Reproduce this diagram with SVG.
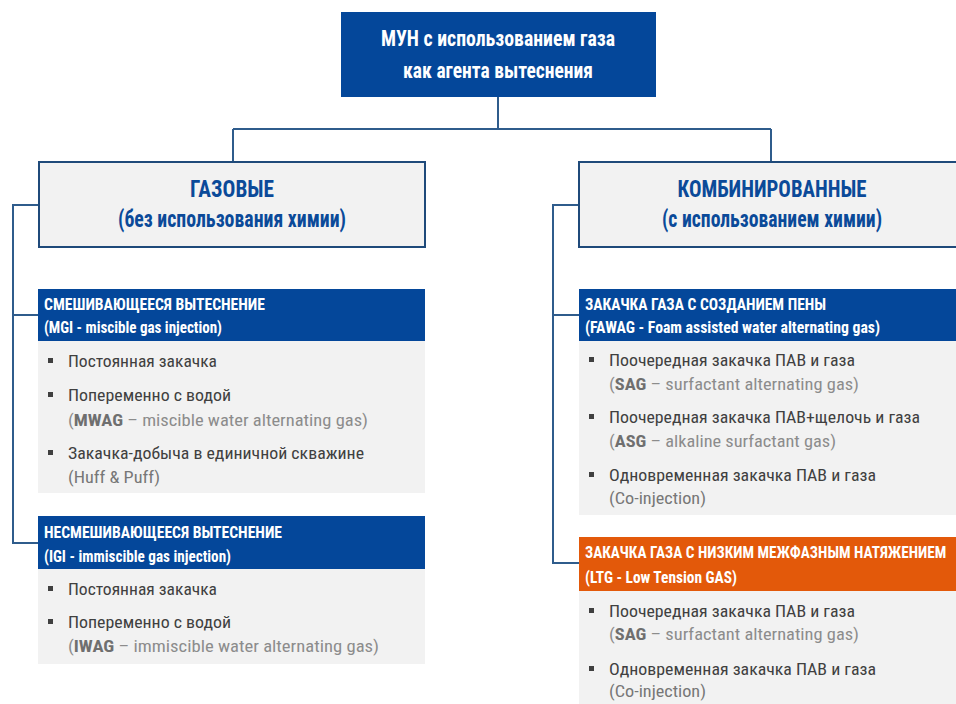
<svg xmlns="http://www.w3.org/2000/svg" width="956" height="704" viewBox="0 0 956 704">
<style>
text{font-family:"Roboto Condensed","Liberation Sans Narrow",Roboto,"Liberation Sans",sans-serif}
.top{fill:#ffffff;font-size:22px;font-weight:bold}
.cat{fill:#0b4a99;font-size:23px;font-weight:bold}
.hdr{fill:#ffffff;font-size:16px;font-weight:bold}
.txt{fill:#404040;font-size:17px}
.par{fill:#8c8c8c;font-size:17px}
.ab{fill:#6f6f6f;font-weight:bold}
.blue{fill:#04479a}
.orange{fill:#e3590a}
.body{fill:#f2f2f2}
.catbox{fill:#f2f2f2;stroke:#1f4a7a;stroke-width:2}
.conn{fill:none;stroke:#2f5c8c;stroke-width:2}
.bul{fill:#404040}
</style>
<g id="connectors">
<path class="conn" d="M498 97V129M233 129H771M233 129V162M771 129V162"/>
<path class="conn" d="M39 205H13V543H39M13 315H38"/>
<path class="conn" d="M579 205H553V563H579M553 315H579"/>
</g>
<g id="root">
<rect class="blue" x="341" y="12" width="315" height="85"/>
<text class="top" x="498" y="46" text-anchor="middle" textLength="234" lengthAdjust="spacingAndGlyphs">МУН с использованием газа</text>
<text class="top" x="498" y="78" text-anchor="middle" textLength="190" lengthAdjust="spacingAndGlyphs">как агента вытеснения</text>
</g>
<g id="gas">
<rect class="catbox" x="39" y="162" width="386" height="85"/>
<text class="cat" x="232" y="197" text-anchor="middle" textLength="84" lengthAdjust="spacingAndGlyphs">ГАЗОВЫЕ</text>
<text class="cat" x="232" y="227" text-anchor="middle" textLength="228" lengthAdjust="spacingAndGlyphs">(без использования химии)</text>
</g>
<g id="combined">
<rect class="catbox" x="579" y="162" width="380" height="85"/>
<text class="cat" x="772" y="197" text-anchor="middle" textLength="189" lengthAdjust="spacingAndGlyphs">КОМБИНИРОВАННЫЕ</text>
<text class="cat" x="772" y="227" text-anchor="middle" textLength="220" lengthAdjust="spacingAndGlyphs">(с использованием химии)</text>
</g>
<g id="mgi">
<rect class="blue" x="38" y="289" width="387" height="52"/>
<rect class="body" x="38" y="341" width="387" height="152"/>
<text class="hdr" x="44" y="310" textLength="221" lengthAdjust="spacingAndGlyphs">СМЕШИВАЮЩЕЕСЯ ВЫТЕСНЕНИЕ</text>
<text class="hdr" x="44" y="333" textLength="178" lengthAdjust="spacingAndGlyphs">(MGI - miscible gas injection)</text>
<rect class="bul" x="48" y="358" width="5" height="5"/>
<text class="txt" x="68" y="367" textLength="149" lengthAdjust="spacingAndGlyphs">Постоянная закачка</text>
<rect class="bul" x="48" y="392" width="5" height="5"/>
<text class="txt" x="68" y="401" textLength="163" lengthAdjust="spacingAndGlyphs">Попеременно с водой</text>
<text class="par" x="68" y="426" textLength="300" lengthAdjust="spacingAndGlyphs">(<tspan class="ab">MWAG</tspan> – miscible water alternating gas)</text>
<rect class="bul" x="48" y="450" width="5" height="5"/>
<text class="txt" x="68" y="459" textLength="296" lengthAdjust="spacingAndGlyphs">Закачка-добыча в единичной скважине</text>
<text class="par" x="68" y="483" textLength="92" lengthAdjust="spacingAndGlyphs" style="fill:#777">(Huff &amp; Puff)</text>
</g>
<g id="igi">
<rect class="blue" x="38" y="516" width="387" height="53"/>
<rect class="body" x="38" y="569" width="387" height="95"/>
<text class="hdr" x="44" y="538" textLength="238" lengthAdjust="spacingAndGlyphs">НЕСМЕШИВАЮЩЕЕСЯ ВЫТЕСНЕНИЕ</text>
<text class="hdr" x="44" y="562" textLength="187" lengthAdjust="spacingAndGlyphs">(IGI - immiscible gas injection)</text>
<rect class="bul" x="48" y="586" width="5" height="5"/>
<text class="txt" x="68" y="595" textLength="149" lengthAdjust="spacingAndGlyphs">Постоянная закачка</text>
<rect class="bul" x="48" y="619" width="5" height="5"/>
<text class="txt" x="68" y="628" textLength="163" lengthAdjust="spacingAndGlyphs">Попеременно с водой</text>
<text class="par" x="68" y="652" textLength="311" lengthAdjust="spacingAndGlyphs">(<tspan class="ab">IWAG</tspan> – immiscible water alternating gas)</text>
</g>
<g id="fawag">
<rect class="blue" x="579" y="289" width="377" height="52"/>
<rect class="body" x="579" y="341" width="377" height="174"/>
<text class="hdr" x="585" y="310" textLength="241" lengthAdjust="spacingAndGlyphs">ЗАКАЧКА ГАЗА С СОЗДАНИЕМ ПЕНЫ</text>
<text class="hdr" x="585" y="333" textLength="295" lengthAdjust="spacingAndGlyphs">(FAWAG - Foam assisted water alternating gas)</text>
<rect class="bul" x="589" y="357" width="5" height="5"/>
<text class="txt" x="609" y="366" textLength="246" lengthAdjust="spacingAndGlyphs">Поочередная закачка ПАВ и газа</text>
<text class="par" x="609" y="390" textLength="250" lengthAdjust="spacingAndGlyphs">(<tspan class="ab">SAG</tspan> – surfactant alternating gas)</text>
<rect class="bul" x="589" y="414" width="5" height="5"/>
<text class="txt" x="609" y="423" textLength="311" lengthAdjust="spacingAndGlyphs">Поочередная закачка ПАВ+щелочь и газа</text>
<text class="par" x="609" y="447" textLength="227" lengthAdjust="spacingAndGlyphs">(<tspan class="ab">ASG</tspan> – alkaline surfactant gas)</text>
<rect class="bul" x="589" y="472" width="5" height="5"/>
<text class="txt" x="609" y="481" textLength="267" lengthAdjust="spacingAndGlyphs">Одновременная закачка ПАВ и газа</text>
<text class="par" x="609" y="504" textLength="97" lengthAdjust="spacingAndGlyphs" style="fill:#777">(Co-injection)</text>
</g>
<g id="ltg">
<rect class="orange" x="579" y="537" width="377" height="54"/>
<rect class="body" x="579" y="591" width="377" height="113"/>
<text class="hdr" transform="translate(585 558) scale(0.84 1)" x="0" y="0" textLength="430" lengthAdjust="spacingAndGlyphs">ЗАКАЧКА ГАЗА С НИЗКИМ МЕЖФАЗНЫМ НАТЯЖЕНИЕМ</text>
<text class="hdr" x="585" y="583" textLength="152" lengthAdjust="spacingAndGlyphs">(LTG - Low Tension GAS)</text>
<rect class="bul" x="589" y="608" width="5" height="5"/>
<text class="txt" x="609" y="617" textLength="246" lengthAdjust="spacingAndGlyphs">Поочередная закачка ПАВ и газа</text>
<text class="par" x="609" y="640" textLength="250" lengthAdjust="spacingAndGlyphs">(<tspan class="ab">SAG</tspan> – surfactant alternating gas)</text>
<rect class="bul" x="589" y="666" width="5" height="5"/>
<text class="txt" x="609" y="675" textLength="267" lengthAdjust="spacingAndGlyphs">Одновременная закачка ПАВ и газа</text>
<text class="par" x="609" y="697" textLength="97" lengthAdjust="spacingAndGlyphs" style="fill:#777">(Co-injection)</text>
</g>
</svg>
